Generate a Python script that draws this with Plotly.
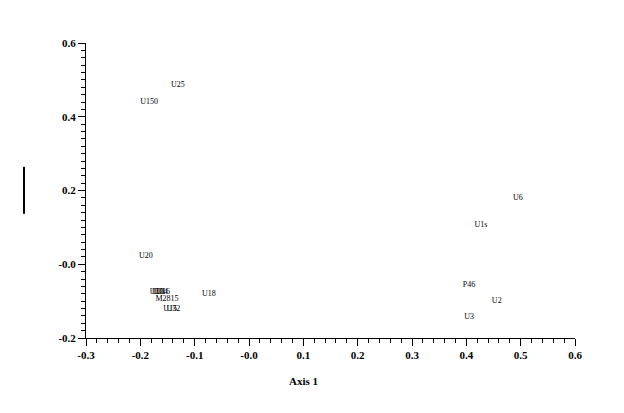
import plotly.graph_objects as go

labels = ["U25", "U150", "U6", "U1s", "U20", "P46", "U2", "U3", "U18",
          "U10", "U11", "U14", "U16", "M2815", "U15", "U32"]
axis1 = [-0.131, -0.184, 0.495, 0.427, -0.190, 0.405, 0.456, 0.405, -0.074,
         -0.170, -0.166, -0.162, -0.158, -0.151, -0.145, -0.139]
axis2 = [0.486, 0.440, 0.180, 0.106, 0.022, -0.056, -0.100, -0.143, -0.081,
         -0.075, -0.075, -0.076, -0.075, -0.094, -0.121, -0.121]

x_ticks = [-0.3, -0.2, -0.1, 0.0, 0.1, 0.2, 0.3, 0.4, 0.5, 0.6]
x_ticktext = ["-0.3", "-0.2", "-0.1", "-0.0", "0.1", "0.2", "0.3", "0.4", "0.5", "0.6"]
y_ticks = [-0.2, 0.0, 0.2, 0.4, 0.6]
y_ticktext = ["-0.2", "-0.0", "0.2", "0.4", "0.6"]

serif = "Liberation Serif"

fig = go.Figure()
fig.add_trace(go.Scatter(
    x=axis1, y=axis2, text=labels, mode="text",
    textposition="middle center",
    textfont=dict(family=serif, size=8, color="#000000"),
    hoverinfo="text", showlegend=False,
))

axis_common = dict(
    showline=True, linecolor="black", linewidth=1,
    showgrid=False, zeroline=False,
    ticks="outside", ticklen=7, tickwidth=1, tickcolor="black",
    tickfont=dict(family=serif, size=11, color="black", weight="bold"),
    minor=dict(ticks="outside", ticklen=4, tickwidth=1, tickcolor="black", dtick=0.02, showgrid=False),
)

fig.update_layout(
    width=608, height=397,
    margin=dict(l=78, r=41, t=35, b=67),
    paper_bgcolor="white", plot_bgcolor="white",
    xaxis=dict(range=[-0.3, 0.6], tickvals=x_ticks, ticktext=x_ticktext, **axis_common),
    yaxis=dict(range=[-0.2, 0.6], tickvals=y_ticks, ticktext=y_ticktext, **axis_common),
    annotations=[dict(
        text="<b>Axis 1</b>", x=0.444, y=-0.146, xref="paper", yref="paper",
        xanchor="center", yanchor="middle", showarrow=False,
        font=dict(family=serif, size=11, color="black"),
    )],
    shapes=[dict(
        type="line", xref="paper", yref="paper",
        x0=-0.1268, x1=-0.1268, y0=0.421, y1=0.58,
        line=dict(color="black", width=2),
    )],
)

fig.write_html("out.html")
